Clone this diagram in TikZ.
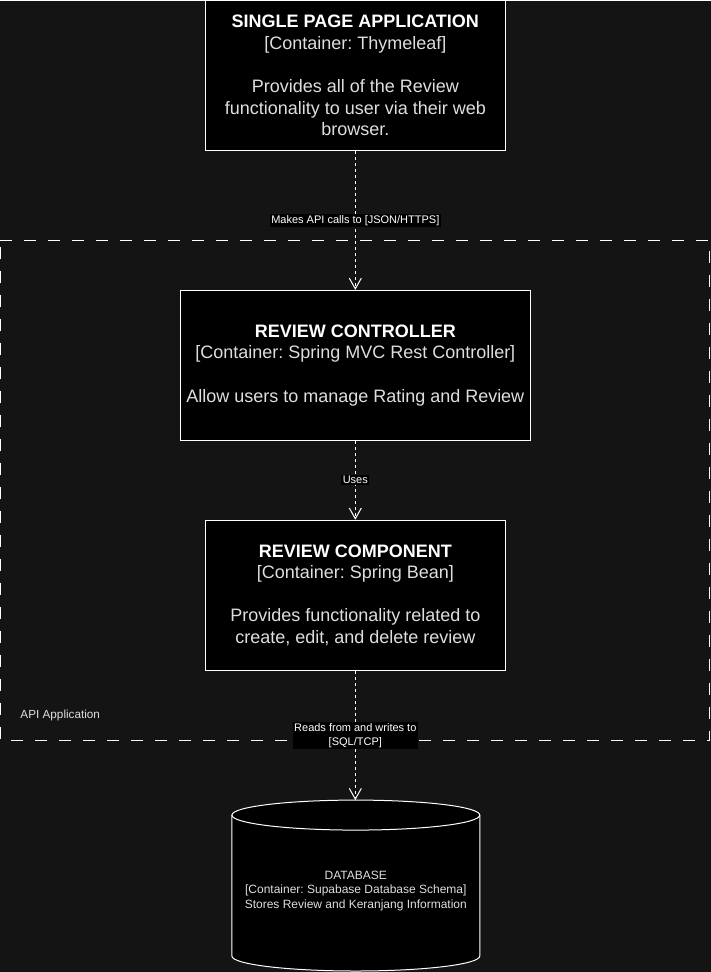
\documentclass[tikz,border=0pt]{standalone}
\usepackage{fontspec}
\setmainfont{Liberation Sans}
\usetikzlibrary{arrows.meta,positioning}

\definecolor{bg}{HTML}{141414}
\definecolor{txt}{HTML}{DEDEDE}
\frenchspacing

\begin{document}
\begin{tikzpicture}[x=0.75pt, y=-0.75pt, line width=0.75pt,
    box/.style={draw=white, fill=black, text=txt, align=center, minimum height=112.5pt, inner sep=0pt, font=\fontsize{13.5}{16.2}\selectfont},
    conn/.style={draw=white, dash pattern=on 2.25pt off 2.25pt, -{Straight Barb[length=8pt, width=9pt]}},
    lbl/.style={fill=black, text=white, align=center, inner sep=1pt, font=\fontsize{8.25}{10.5}\selectfont},
    dbend/.style={x radius=93pt, y radius=11.25pt}]

    \fill [bg] (0, 0) rectangle (711, 972);

    % API application boundary
    \draw [white, dash pattern=on 9pt off 9pt] (0.5, 240) -- (710, 240) -- (710, 740) -- (0.5, 740) -- cycle;
    \node [anchor=west, inner sep=0pt, text=txt, font=\fontsize{8.8}{10}\selectfont] (apiapp) at (20, 715) {API Application};

    \node [box, minimum width=225pt] (spa) at (355.5, 75)
        {\textcolor{white}{\textbf{SINGLE PAGE APPLICATION}}\\ {[Container: Thymeleaf]}\\[16.2pt]
         Provides all of the Review\\ functionality to user via their web\\ browser.};

    \node [box, minimum width=262.5pt] (ctrl) at (355.5, 365)
        {\textcolor{white}{\textbf{REVIEW CONTROLLER}}\\ {[Container: Spring MVC Rest Controller]}\\[16.2pt]
         Allow users to manage Rating and Review};

    \node [box, minimum width=225pt] (comp) at (355.5, 595)
        {\textcolor{white}{\textbf{REVIEW COMPONENT}}\\ {[Container: Spring Bean]}\\[16.2pt]
         Provides functionality related to\\ create, edit, and delete review};

    % database cylinder
    \draw [white, fill=black] (232, 815) -- (232, 956) arc [start angle=180, end angle=360, dbend]
        -- (480, 815) arc [start angle=0, end angle=180, dbend] -- cycle;
    \draw [white] (232, 815) arc [start angle=180, end angle=360, dbend];
    \coordinate (dbtop) at (355.5, 800);
    \node [text=txt, align=center, font=\fontsize{9}{11.25}\selectfont] (db) at (356, 891)
        {DATABASE\\ {[Container: Supabase Database Schema]}\\ Stores Review and Keranjang Information};

    \draw [conn] (spa) -- (ctrl) node [lbl, midway] {Makes API calls to [JSON/HTTPS]};
    \draw [conn] (ctrl) -- (comp) node [lbl, midway] {Uses};
    \draw [conn] (comp) -- (dbtop) node [lbl, midway] {Reads from and writes to\\ {[SQL/TCP]}};

\end{tikzpicture}
\end{document}
